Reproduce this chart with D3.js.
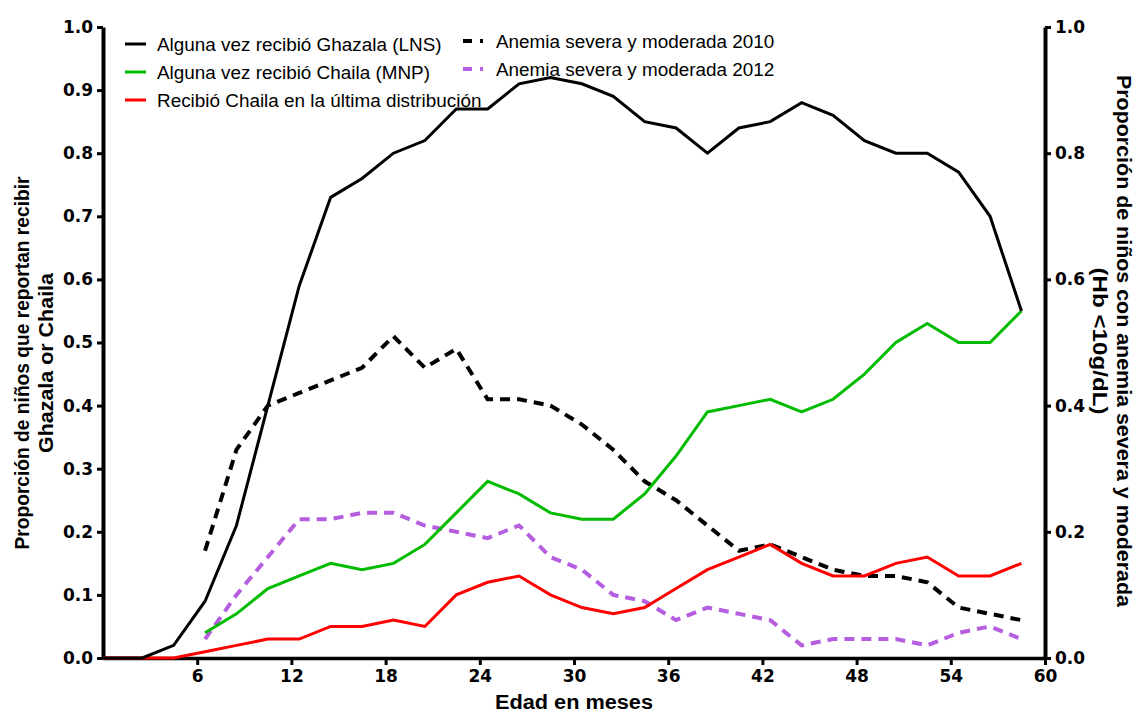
<!DOCTYPE html>
<html><head><meta charset="utf-8">
<script src="https://cdn.jsdelivr.net/npm/d3@7"></script>
<style>body{margin:0;background:#fff}</style>
</head><body>
<svg id="chart" width="1138" height="713"></svg>
<script>
// ---- data ----
const ages = [0,2.5,4.5,6.5,8.5,10.5,12.5,14.5,16.5,18.5,20.5,22.5,24.5,26.5,28.5,30.5,32.5,34.5,36.5,38.5,40.5,42.5,44.5,46.5,48.5,50.5,52.5,54.5,56.5,58.5];
const ghazalaLNS = [0,0,0.02,0.09,0.21,0.40,0.59,0.73,0.76,0.80,0.82,0.87,0.87,0.91,0.92,0.91,0.89,0.85,0.84,0.80,0.84,0.85,0.88,0.86,0.82,0.80,0.80,0.77,0.70,0.55];
const chailaMNP = [null,null,null,0.04,0.07,0.11,0.13,0.15,0.14,0.15,0.18,0.23,0.28,0.26,0.23,0.22,0.22,0.26,0.32,0.39,0.40,0.41,0.39,0.41,0.45,0.50,0.53,0.50,0.50,0.55];
const chailaUltima = [0,0,0,0.01,0.02,0.03,0.03,0.05,0.05,0.06,0.05,0.10,0.12,0.13,0.10,0.08,0.07,0.08,0.11,0.14,0.16,0.18,0.15,0.13,0.13,0.15,0.16,0.13,0.13,0.15];
const anemia2010 = [null,null,null,0.17,0.33,0.40,0.42,0.44,0.46,0.51,0.46,0.49,0.41,0.41,0.40,0.37,0.33,0.28,0.25,0.21,0.17,0.18,0.16,0.14,0.13,0.13,0.12,0.08,0.07,0.06];
const anemia2012 = [null,null,null,0.03,0.10,0.16,0.22,0.22,0.23,0.23,0.21,0.20,0.19,0.21,0.16,0.14,0.10,0.09,0.06,0.08,0.07,0.06,0.02,0.03,0.03,0.03,0.02,0.04,0.05,0.03];
const xTicks = [6,12,18,24,30,36,42,48,54,60];
const yLeftTicks = [0,0.1,0.2,0.3,0.4,0.5,0.6,0.7,0.8,0.9,1.0];
const yRightTicks = [0,0.2,0.4,0.6,0.8,1.0];
const seriesNames = ["Alguna vez recibió Ghazala (LNS)","Alguna vez recibió Chaila (MNP)","Recibió Chaila en la última distribución","Anemia severa y moderada 2010","Anemia severa y moderada 2012"];
const seriesColors = ["#000000","#00bb00","#ff0000","#000000","#b65ee0"];
const xTitle = "Edad en meses";
const yLeftTitle = ["Proporción de niños que reportan recibir","Ghazala or Chaila"];
const yRightTitle = ["Proporción de niños con anemia severa y moderada","(Hb <10g/dL)"];

// ---- layout ----
const svg = d3.select("#chart");
const L = 103, R = 1045, T = 27, B = 658;
const x = d3.scaleLinear().domain([0,60]).range([L,R]);
const yL = d3.scaleLinear().domain([0,1]).range([B,T]);
const yR = d3.scaleLinear().domain([0,1]).range([B,T]);

const tickFont = "'DejaVu Sans', sans-serif";
const titleFont = "'Liberation Sans Narrow','Liberation Sans',Arial,sans-serif";

function styleAxis(g){
  g.select(".domain").attr("stroke","#000").attr("stroke-width",4);
  g.selectAll(".tick line").attr("stroke","#000").attr("stroke-width",3);
  g.selectAll(".tick text").attr("font-family",tickFont).attr("font-weight","bold").attr("font-size",17).attr("fill","#000");
}

// x axis
const gx = svg.append("g").attr("transform",`translate(0,${B})`)
  .call(d3.axisBottom(x).tickValues(xTicks).tickFormat(d3.format("d")).tickSizeOuter(0).tickSizeInner(7).tickPadding(5));
styleAxis(gx);
gx.select(".domain").attr("stroke-width",3.5);

// left axis
const gl = svg.append("g").attr("transform",`translate(${L},0)`)
  .call(d3.axisLeft(yL).tickValues(yLeftTicks).tickFormat(d3.format(".1f")).tickSizeOuter(0).tickSizeInner(6).tickPadding(4));
styleAxis(gl);

// right axis
const gr = svg.append("g").attr("transform",`translate(${R},0)`)
  .call(d3.axisRight(yR).tickValues(yRightTicks).tickFormat(d3.format(".1f")).tickSizeOuter(0).tickSizeInner(6).tickPadding(4));
styleAxis(gr);

// lines
const mk = (arr, scale) => d3.line().defined((d,i)=>arr[i]!==null).x((d,i)=>x(ages[i])).y((d,i)=>scale(arr[i]));
const series = [
  {data:anemia2010, scale:yR, color:seriesColors[3], dash:"10,7", w:4},
  {data:anemia2012, scale:yR, color:seriesColors[4], dash:"10,7", w:4},
  {data:chailaUltima, scale:yL, color:seriesColors[2], dash:null, w:3},
  {data:chailaMNP, scale:yL, color:seriesColors[1], dash:null, w:3},
  {data:ghazalaLNS, scale:yL, color:seriesColors[0], dash:null, w:3},
];
series.forEach(s=>{
  svg.append("path").datum(s.data).attr("fill","none").attr("stroke",s.color)
    .attr("stroke-width",s.w).attr("stroke-linejoin","miter")
    .attr("stroke-dasharray",s.dash).attr("d",mk(s.data,s.scale));
});

// legend
const legFont = "'Liberation Sans',Arial,sans-serif";
const leg1 = [{i:0,y:44},{i:1,y:72},{i:2,y:100}];
leg1.forEach(r=>{
  svg.append("line").attr("x1",125).attr("x2",146).attr("y1",r.y).attr("y2",r.y)
    .attr("stroke",seriesColors[r.i]).attr("stroke-width",3);
  svg.append("text").attr("x",157).attr("y",r.y+6.5).text(seriesNames[r.i])
    .attr("font-family",legFont).attr("font-size",18.9).attr("fill","#000");
});
const leg2 = [{i:3,y:41},{i:4,y:69}];
leg2.forEach(r=>{
  svg.append("line").attr("x1",463).attr("x2",483).attr("y1",r.y).attr("y2",r.y)
    .attr("stroke",seriesColors[r.i]).attr("stroke-width",4).attr("stroke-dasharray","9,8");
  svg.append("text").attr("x",496).attr("y",r.y+6.5).text(seriesNames[r.i])
    .attr("font-family",legFont).attr("font-size",18.9).attr("fill","#000");
});

// titles
svg.append("text").attr("x",574).attr("y",709).attr("text-anchor","middle")
  .attr("font-family",titleFont).attr("font-weight","bold").attr("font-size",20)
  .attr("textLength",158).attr("lengthAdjust","spacingAndGlyphs").text(xTitle);

const lt = [{t:yLeftTitle[0],bx:29,len:373},{t:yLeftTitle[1],bx:53,len:180}];
lt.forEach(o=>{
  svg.append("text").attr("transform",`translate(${o.bx},363) rotate(-90)`).attr("text-anchor","middle")
    .attr("font-family",titleFont).attr("font-weight","bold").attr("font-size",21)
    .attr("textLength",o.len).attr("lengthAdjust","spacingAndGlyphs").text(o.t);
});
const rt = [{t:yRightTitle[0],bx:1117,len:532},{t:yRightTitle[1],bx:1093,len:147}];
rt.forEach(o=>{
  svg.append("text").attr("transform",`translate(${o.bx},341) rotate(90)`).attr("text-anchor","middle")
    .attr("font-family",titleFont).attr("font-weight","bold").attr("font-size",21)
    .attr("textLength",o.len).attr("lengthAdjust","spacingAndGlyphs").text(o.t);
});
</script>
</body></html>
